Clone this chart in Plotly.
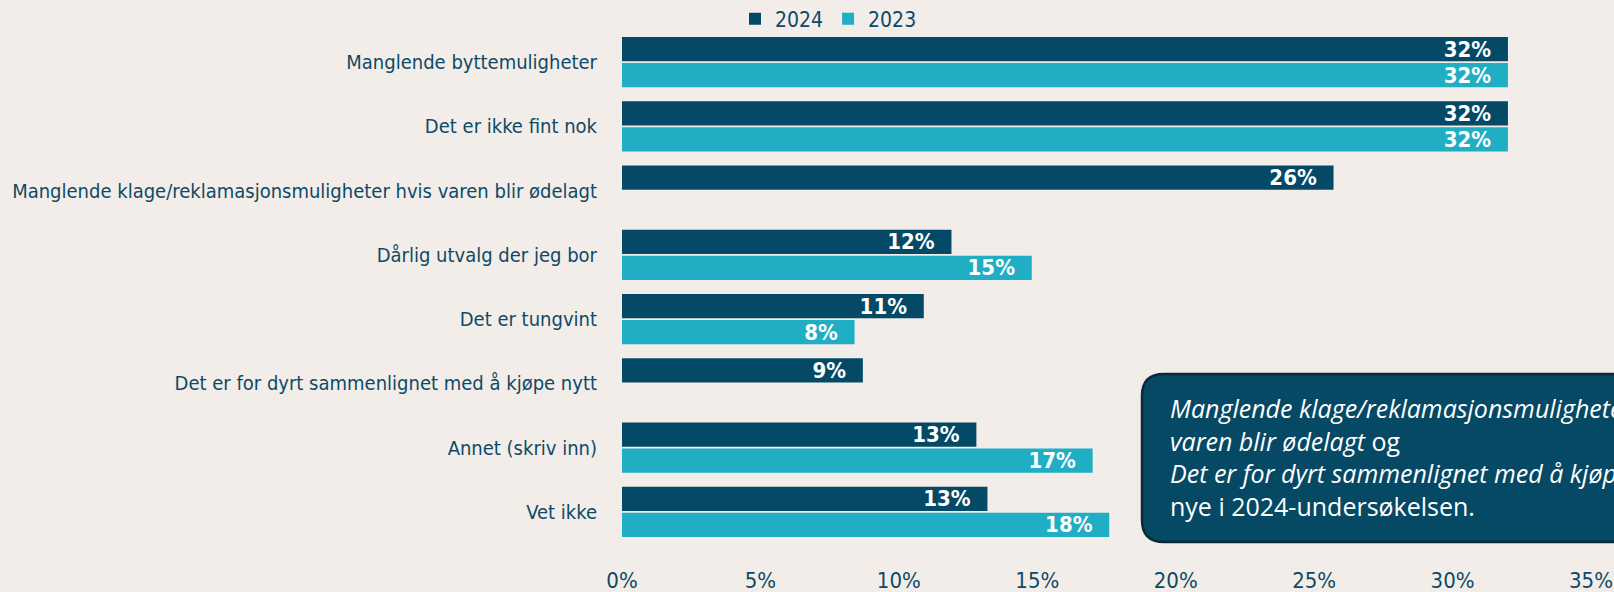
import plotly.graph_objects as go

categories = [
    "Manglende byttemuligheter",
    "Det er ikke fint nok",
    "Manglende klage/reklamasjonsmuligheter hvis varen blir ødelagt",
    "Dårlig utvalg der jeg bor",
    "Det er tungvint",
    "Det er for dyrt sammenlignet med å kjøpe nytt",
    "Annet (skriv inn)",
    "Vet ikke",
]
values_2024 = [32.0, 32.0, 25.7, 11.9, 10.9, 8.7, 12.8, 13.2]
values_2023 = [32.0, 32.0, None, 14.8, 8.4, None, 17.0, 17.6]
labels_2024 = ["32%", "32%", "26%", "12%", "11%", "9%", "13%", "13%"]
labels_2023 = ["32%", "32%", "", "15%", "8%", "", "17%", "18%"]
tick_vals = [0, 5, 10, 15, 20, 25, 30, 35]
tick_text = ["0%", "5%", "10%", "15%", "20%", "25%", "30%", "35%"]

C24 = "#044A66"
C23 = "#1FAEC3"
BG = "#F2EDE9"
TXT = "#0E4A66"
FONT = "DejaVu Sans Condensed, DejaVu Sans, sans-serif"
NB = "\u00a0\u00a0"

fig = go.Figure()
fig.add_trace(go.Bar(
    y=categories, x=values_2024, name="2024", orientation="h",
    marker=dict(color=C24, line=dict(width=0)),
    text=[t + NB if t else t for t in labels_2024],
    textposition="inside", insidetextanchor="end", constraintext="none",
    textfont=dict(family=FONT, size=22, color="white", weight="bold"),
))
fig.add_trace(go.Bar(
    y=categories, x=values_2023, name="2023", orientation="h",
    marker=dict(color=C23, line=dict(width=0)),
    text=[t + NB if t else t for t in labels_2023],
    textposition="inside", insidetextanchor="end", constraintext="none",
    textfont=dict(family=FONT, size=22, color="white", weight="bold"),
))

W, H = 1614, 592
L, R, T, B = 622, 1591, 30, 544
pw, ph = R - L, B - T


def px(x):
    return (x - L) / pw


def py(y):
    return (B - y) / ph


# rounded annotation box
x0, x1, y0, y1 = 1142, 1680, 374, 542
r = 22
rx, ry = r / pw, r / ph
X0, X1, Y0, Y1 = px(x0), px(x1), py(y1), py(y0)
path = (
    f"M {X0+rx},{Y1} L {X1-rx},{Y1} Q {X1},{Y1} {X1},{Y1-ry} "
    f"L {X1},{Y0+ry} Q {X1},{Y0} {X1-rx},{Y0} "
    f"L {X0+rx},{Y0} Q {X0},{Y0} {X0},{Y0+ry} "
    f"L {X0},{Y1-ry} Q {X0},{Y1} {X0+rx},{Y1} Z"
)
fig.add_shape(type="path", path=path, xref="paper", yref="paper",
              fillcolor="#054965", line=dict(color="#0A2A3A", width=2.5), layer="above")

fig.add_annotation(
    xref="paper", yref="paper", x=px(1168), y=py(389), xanchor="left", yanchor="top",
    align="left", showarrow=False,
    text=("<i>Manglende klage/reklamasjonsmuligheter hvis</i><br>"
          "<i>varen blir ødelagt</i> og<br>"
          "<i>Det er for dyrt sammenlignet med å kjøpe nytt</i><br>"
          "nye i 2024-undersøkelsen."),
    font=dict(family="Open Sans, sans-serif", size=25, color="white"),
)

fig.update_layout(
    width=W, height=H,
    paper_bgcolor=BG, plot_bgcolor=BG,
    margin=dict(l=L, r=W - R, t=T, b=H - B, pad=0, autoexpand=False),
    barmode="group", bargap=0.19, bargroupgap=0.07,
    font=dict(family=FONT, color=TXT, size=20),
    showlegend=True,
    legend=dict(orientation="h", x=px(735), y=py(19), xanchor="left", yanchor="middle",
                font=dict(family=FONT, size=21, color=TXT),
                bgcolor="rgba(0,0,0,0)", itemwidth=30, traceorder="normal"),
)
fig.update_xaxes(range=[0, 35], tickvals=tick_vals, ticktext=tick_text,
                 showgrid=False, zeroline=False, showline=False, ticks="",
                 tickfont=dict(family=FONT, size=22, color=TXT),
                 ticklabelstandoff=21, automargin=False)
fig.update_yaxes(autorange="reversed", showgrid=False, zeroline=False, showline=False,
                 ticks="", tickfont=dict(family=FONT, size=20, color=TXT),
                 ticklabelstandoff=24, automargin=False)

fig.write_html("out.html", config={"displayModeBar": False},
               post_script="document.body.style.margin='0';document.body.style.overflow='hidden';")
